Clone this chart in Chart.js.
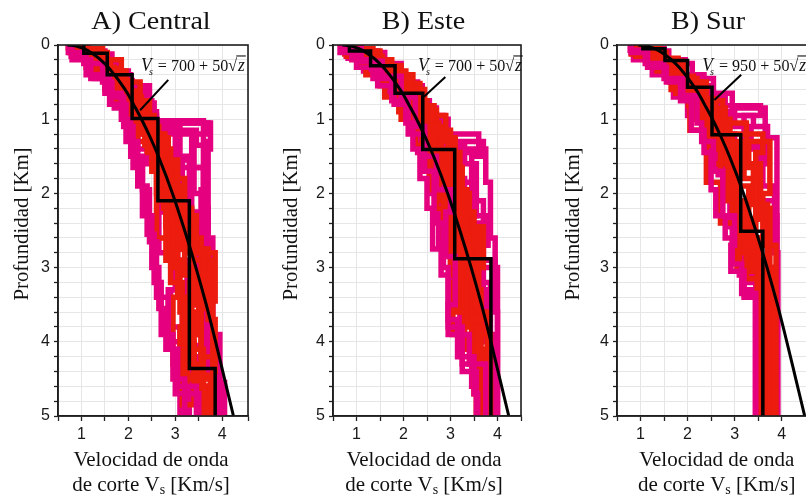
<!DOCTYPE html>
<html><head><meta charset="utf-8">
<script src="https://cdn.jsdelivr.net/npm/chart.js@4.4.1/dist/chart.umd.min.js"></script>
<style>
html,body{margin:0;padding:0;background:#fff;overflow:hidden;width:806px;height:501px;position:relative;}
canvas{position:absolute;top:0;}
</style></head><body>
<canvas id="c1" width="270" height="501" style="left:0px"></canvas>
<canvas id="c2" width="270" height="501" style="left:270px"></canvas>
<canvas id="c3" width="272" height="501" style="left:540px"></canvas>
<script>
// ---------- DATA (velocity km/s, bottom depth km of each layer) ----------
const panelTitles = ['A) Central', 'B) Este', 'B) Sur'];
const equationConstants = ['700', '700', '950'];
const velocityTickLabels = ['1', '2', '3', '4'];
const depthTickLabels = ['0', '1', '2', '3', '4', '5'];

const centralBlack = [[1.05,0.11],[1.55,0.40],[2.08,0.99],[2.63,2.10],[3.30,4.36],[3.85,5]];
const centralRed = [
  [[0.75,0.05],[1.00,0.15],[1.35,0.40],[1.75,0.80],[2.20,1.30],[2.60,2.00],[2.95,2.75],[3.40,3.50],[3.80,5]],
  [[0.85,0.10],[1.20,0.25],[1.60,0.55],[2.00,1.00],[2.50,1.70],[2.80,2.45],[3.30,2.80],[3.85,3.45],[3.55,4.50],[3.78,5]],
  [[0.95,0.08],[1.30,0.30],[1.70,0.65],[2.10,1.10],[2.65,1.90],[3.10,2.75],[3.60,3.40],[3.20,4.45],[3.75,4.85],[3.70,5]],
  [[0.80,0.12],[1.10,0.30],[1.50,0.60],[1.90,0.90],[2.40,1.45],[2.75,2.20],[3.00,3.00],[3.35,3.80],[3.10,4.50],[3.60,5]],
  [[1.05,0.05],[1.45,0.20],[1.85,0.50],[2.25,0.95],[2.55,1.40],[2.90,2.30],[3.45,2.75],[3.70,3.70],[3.85,4.40],[3.80,5]],
  [[0.90,0.15],[1.25,0.35],[1.65,0.70],[2.05,1.20],[2.70,2.10],[2.90,3.20],[3.15,4.00],[3.40,4.80],[3.70,5]],
  [[1.10,0.10],[1.55,0.35],[1.95,0.75],[2.45,1.25],[2.85,1.80],[3.20,2.60],[3.55,3.20],[3.30,4.10],[3.60,4.60],[3.75,5]],
  [[0.75,0.10],[1.15,0.35],[1.50,0.50],[1.85,0.80],[2.35,1.35],[2.60,2.60],[3.05,3.40],[2.95,4.30],[3.50,4.80],[3.70,5]],
  [[0.82,0.07],[1.22,0.22],[1.62,0.48],[2.02,0.88],[2.42,1.20],[2.78,1.60],[3.00,2.40],[3.20,3.10],[3.50,3.90],[3.25,4.60],[3.65,5]],
  [[0.98,0.12],[1.40,0.32],[1.78,0.62],[2.18,1.05],[2.55,1.55],[3.05,2.20],[3.35,2.90],[3.75,3.55],[3.55,4.20],[3.82,5]],
  [[0.72,0.04],[1.08,0.18],[1.45,0.42],[1.88,0.70],[2.28,1.15],[2.62,1.75],[2.80,2.90],[3.10,3.60],[3.40,4.30],[3.15,4.85],[3.50,5]]
];
const centralMagenta = [
  [[0.72,0.10],[1.05,0.25],[1.45,0.50],[1.65,0.70],[1.90,1.10],[2.10,1.65],[2.30,2.30],[2.50,3.00],[2.65,3.55],[2.80,4.10],[3.00,4.70],[3.50,5]],
  [[1.10,0.08],[1.50,0.20],[1.75,0.35],[2.00,0.55],[2.45,1.05],[3.75,1.40],[3.70,2.60],[3.80,5]],
  [[0.90,0.12],[1.30,0.30],[1.70,0.55],[2.35,0.90],[2.60,1.05],[3.70,1.20],[3.40,2.00],[3.65,2.90],[3.55,3.60],[3.75,4.55],[4.05,4.95],[3.90,5]],
  [[0.80,0.20],[1.20,0.45],[1.60,0.80],[1.95,1.30],[2.20,1.90],[2.40,2.55],[2.55,3.20],[2.70,3.90],[2.95,4.50],[3.20,5]],
  [[1.00,0.15],[1.40,0.40],[1.80,0.75],[2.50,1.15],[3.45,1.35],[3.60,2.20],[3.70,3.10],[3.50,3.90],[3.95,4.60],[4.00,5]],
  [[0.85,0.05],[1.25,0.20],[1.60,0.45],[2.00,0.85],[2.30,1.20],[3.35,1.50],[3.15,2.40],[3.40,3.30],[3.65,4.20],[3.45,4.80],[3.60,5]],
  [[0.95,0.10],[1.35,0.25],[1.75,0.60],[2.15,0.95],[2.60,1.70],[3.10,2.10],[2.85,2.90],[3.25,3.60],[3.15,4.40],[3.30,5]],
  [[0.78,0.15],[1.10,0.40],[1.50,0.65],[1.85,1.00],[2.05,1.50],[2.30,1.95],[2.45,2.65],[2.60,3.40],[2.85,4.10],[3.05,4.60],[3.45,5]],
  [[1.15,0.12],[1.65,0.40],[2.05,0.70],[2.35,1.05],[3.00,1.65],[3.60,1.95],[3.55,2.70],[3.75,3.50],[3.60,4.30],[3.85,5]],
  [[0.88,0.18],[1.28,0.45],[1.70,0.85],[2.20,1.40],[2.70,2.25],[3.25,2.50],[3.05,3.30],[2.90,4.00],[3.35,4.65],[3.10,5]],
  [[0.82,0.06],[1.18,0.22],[1.55,0.42],[1.95,0.68],[2.25,1.02],[3.60,1.30],[3.65,1.65],[3.35,2.25],[3.60,2.70],[3.45,3.50],[3.70,4.40],[3.95,5]],
  [[1.02,0.10],[1.42,0.28],[1.82,0.60],[2.12,1.10],[2.40,1.60],[2.80,2.00],[2.65,2.80],[3.00,3.30],[2.85,3.80],[3.10,4.40],[3.25,5]],
  [[0.92,0.08],[1.32,0.20],[1.72,0.48],[2.08,0.78],[2.55,1.08],[3.10,1.55],[3.30,2.35],[3.05,2.70],[3.50,3.20],[3.25,4.05],[3.55,4.65],[3.85,5]]
];

const esteBlack = [[0.85,0.08],[1.30,0.28],[1.82,0.65],[2.41,1.41],[3.09,2.88],[3.86,5]];
const esteRed = [
  [[0.70,0.06],[1.00,0.18],[1.40,0.40],[1.80,0.65],[2.10,1.00],[2.40,1.50],[2.70,2.20],[3.10,2.90],[3.35,3.80],[3.60,5]],
  [[0.85,0.10],[1.25,0.25],[1.65,0.50],[2.00,0.80],[2.35,1.20],[2.65,1.75],[2.95,2.40],[3.20,3.20],[3.05,3.90],[3.55,5]],
  [[0.95,0.05],[1.35,0.20],[1.75,0.45],[2.15,0.75],[2.50,1.10],[2.80,1.50],[3.05,2.25],[3.50,2.70],[3.40,3.70],[3.80,5]],
  [[0.75,0.12],[1.10,0.30],[1.50,0.55],[1.90,0.90],[2.25,1.35],[2.55,1.95],[2.85,2.60],[3.30,3.50],[3.65,4.40],[3.75,5]],
  [[0.90,0.08],[1.30,0.22],[1.70,0.40],[2.20,0.85],[2.60,1.30],[2.95,2.05],[3.25,2.50],[3.60,3.25],[3.45,3.90],[3.85,5]],
  [[1.00,0.12],[1.45,0.35],[1.85,0.70],[2.30,1.05],[2.75,1.70],[3.00,2.60],[3.15,3.60],[3.50,4.40],[3.65,5]],
  [[0.80,0.15],[1.20,0.40],[1.60,0.70],[1.95,1.00],[2.45,1.60],[2.75,2.10],[3.35,2.55],[3.10,3.40],[3.55,4.20],[3.70,5]],
  [[0.88,0.05],[1.20,0.15],[1.55,0.35],[2.05,0.60],[2.45,0.95],[2.90,1.25],[3.10,2.00],[3.40,2.80],[3.25,3.60],[3.80,4.50],[3.60,5]],
  [[0.78,0.08],[1.15,0.25],[1.52,0.45],[1.92,0.75],[2.28,1.10],[2.62,1.55],[2.90,2.20],[3.25,2.75],[3.50,3.40],[3.30,4.10],[3.72,5]],
  [[0.95,0.10],[1.38,0.28],[1.80,0.55],[2.18,0.95],[2.55,1.40],[2.85,1.85],[3.15,2.35],[3.00,3.10],[3.40,3.70],[3.58,4.60],[3.85,5]],
  [[0.72,0.05],[1.05,0.15],[1.45,0.32],[1.85,0.58],[2.25,0.88],[2.70,1.45],[3.20,1.95],[3.35,2.45],[3.70,3.00],[3.55,3.80],[3.78,5]],
  [[1.05,0.08],[1.50,0.28],[1.95,0.52],[2.35,0.82],[2.65,1.15],[3.00,1.65],[3.25,2.15],[3.05,2.70],[3.30,3.30],[3.65,4.00],[3.50,4.70],[3.70,5]]
];
const esteMagenta = [
  [[0.65,0.10],[1.00,0.30],[1.45,0.55],[1.80,0.80],[2.05,1.05],[2.20,1.40],[2.35,1.80],[2.50,2.20],[2.62,2.75],[2.80,3.10],[2.95,3.70],[3.15,4.20],[3.50,4.70],[3.58,5]],
  [[1.10,0.10],[1.60,0.25],[1.95,0.50],[2.30,0.75],[2.55,1.00],[2.95,1.40],[3.75,1.85],[3.85,2.60],[3.95,3.00],[4.00,5]],
  [[0.90,0.20],[1.35,0.45],[1.75,0.75],[2.10,1.20],[2.45,1.70],[2.65,2.40],[2.85,3.00],[2.95,3.80],[3.25,4.40],[3.55,5]],
  [[0.95,0.08],[1.45,0.30],[1.90,0.55],[2.40,0.95],[2.85,1.30],[3.70,1.50],[3.45,2.10],[3.70,2.90],[3.95,3.30],[3.75,4.00],[3.95,5]],
  [[0.78,0.15],[1.15,0.35],[1.60,0.65],[2.00,1.00],[2.30,1.45],[2.55,2.00],[2.75,2.70],[3.00,3.40],[3.20,4.00],[3.45,4.60],[3.60,5]],
  [[1.05,0.15],[1.50,0.40],[1.85,0.60],[2.20,0.90],[2.60,1.35],[3.30,1.60],[3.55,2.30],[3.40,3.00],[3.70,3.60],[3.50,4.30],[3.70,5]],
  [[0.85,0.05],[1.20,0.20],[1.70,0.50],[2.15,0.85],[2.70,1.25],[3.05,1.80],[3.30,2.40],[3.60,3.00],[3.90,3.60],[4.00,5]],
  [[0.70,0.05],[1.10,0.22],[1.55,0.42],[1.95,0.70],[2.25,1.10],[2.45,1.50],[2.70,1.95],[3.00,2.25],[2.90,2.85],[3.10,3.50],[2.95,3.90],[3.40,4.30],[3.75,5]],
  [[1.00,0.12],[1.40,0.30],[1.80,0.58],[2.15,0.88],[2.40,1.20],[3.60,1.45],[3.25,1.85],[3.50,2.30],[3.80,2.70],[3.55,3.20],[3.85,3.90],[3.95,5]],
  [[0.82,0.18],[1.25,0.38],[1.65,0.62],[2.05,0.92],[2.50,1.30],[2.80,1.90],[3.20,2.25],[3.05,2.80],[3.30,3.60],[3.25,4.30],[3.65,5]]
];

const surBlack = [[1.05,0.05],[1.52,0.21],[2.00,0.57],[2.52,1.21],[3.13,2.51],[3.60,5]];
const surRed = [
  [[0.85,0.08],[1.20,0.20],[1.60,0.40],[1.95,0.70],[2.30,1.10],[2.70,1.70],[3.05,2.40],[3.40,3.00],[3.60,5]],
  [[1.00,0.05],[1.40,0.18],[1.80,0.45],[2.20,0.80],[2.60,1.25],[2.95,1.90],[3.30,2.60],[3.70,5]],
  [[0.80,0.12],[1.25,0.30],[1.70,0.55],[2.10,0.90],[2.45,1.35],[2.85,2.10],[3.20,2.80],[3.50,3.40],[3.85,5]],
  [[1.10,0.10],[1.55,0.25],[1.95,0.50],[2.40,0.85],[2.80,1.20],[3.60,1.45],[3.45,2.20],[3.75,3.00],[3.80,5]],
  [[0.90,0.15],[1.35,0.35],[1.75,0.65],[2.15,1.00],[2.55,1.60],[3.00,2.20],[3.10,2.95],[3.55,5]],
  [[1.05,0.06],[1.45,0.22],[1.90,0.50],[2.30,0.75],[2.75,1.05],[3.25,1.30],[3.75,2.00],[3.60,2.70],[3.88,5]],
  [[0.95,0.10],[1.30,0.28],[1.65,0.60],[2.05,1.15],[2.40,1.85],[2.70,2.40],[3.25,3.15],[3.65,5]],
  [[0.88,0.05],[1.28,0.20],[1.70,0.42],[2.12,0.72],[2.55,1.00],[2.90,1.35],[3.20,1.80],[3.45,2.50],[3.30,2.90],[3.62,5]],
  [[1.02,0.12],[1.48,0.30],[1.88,0.60],[2.25,0.92],[2.65,1.40],[3.05,1.65],[3.40,2.15],[3.70,2.60],[3.50,3.10],[3.78,5]],
  [[0.82,0.10],[1.22,0.26],[1.62,0.50],[2.02,0.82],[2.38,1.18],[2.78,1.55],[2.95,2.25],[3.20,2.60],[3.05,3.00],[3.48,5]],
  [[0.95,0.07],[1.35,0.22],[1.78,0.52],[2.18,0.85],[2.50,1.30],[3.30,1.60],[3.55,2.35],[3.35,3.05],[3.70,5]]
];
const surMagenta = [
  [[0.80,0.10],[1.15,0.30],[1.55,0.50],[1.85,0.75],[2.08,1.15],[2.35,1.45],[2.50,1.95],[2.60,2.30],[2.80,2.60],[2.95,2.95],[3.15,3.35],[3.45,5]],
  [[1.15,0.08],[1.60,0.25],[2.10,0.45],[2.55,0.65],[2.95,0.85],[3.65,1.25],[3.90,5]],
  [[0.95,0.15],[1.40,0.35],[1.85,0.60],[2.20,1.00],[2.45,1.40],[2.75,2.00],[2.95,2.85],[3.20,3.30],[3.50,5]],
  [[1.00,0.05],[1.50,0.20],[1.95,0.40],[2.35,0.70],[2.80,0.95],[3.40,1.10],[3.70,1.60],[3.55,2.30],[3.90,3.00],[3.75,5]],
  [[0.85,0.20],[1.25,0.40],[1.70,0.70],[2.00,0.95],[2.40,1.25],[2.65,1.75],[2.90,2.45],[3.10,3.10],[3.45,5]],
  [[1.10,0.12],[1.55,0.32],[1.95,0.55],[2.45,0.90],[3.00,1.10],[3.35,1.40],[3.50,2.10],[3.85,2.80],[3.92,5]],
  [[0.78,0.07],[1.10,0.25],[1.50,0.45],[1.90,0.68],[2.20,1.05],[2.30,1.30],[2.55,1.70],[2.75,2.30],[3.00,2.70],[2.92,3.05],[3.20,3.40],[3.44,5]],
  [[1.05,0.10],[1.50,0.30],[1.90,0.55],[2.40,0.82],[3.55,0.95],[3.20,1.35],[3.60,1.90],[3.85,2.50],[3.70,3.20],[3.85,5]],
  [[0.90,0.12],[1.32,0.32],[1.72,0.58],[2.10,0.88],[2.60,1.20],[3.00,1.50],[2.75,2.05],[3.10,2.65],[3.30,3.20],[3.55,5]]
];

// smooth trend curves
const curveDepth = [0, 0.01, 0.02, 0.05, 0.1, 0.15, 0.2, 0.3, 0.4, 0.5, 0.65, 0.8, 1.0, 1.25, 1.5, 2.0, 2.5, 3.0, 3.5, 4.0, 4.5, 5.0];
const curveVs700 = [0.70, 0.86, 0.92, 1.05, 1.20, 1.31, 1.41, 1.57, 1.70, 1.82, 1.98, 2.11, 2.28, 2.47, 2.64, 2.94, 3.20, 3.44, 3.66, 3.86, 4.05, 4.24];
const curveVs950 = [0.95, 1.11, 1.17, 1.30, 1.45, 1.56, 1.66, 1.82, 1.95, 2.07, 2.23, 2.36, 2.53, 2.72, 2.89, 3.19, 3.45, 3.69, 3.91, 4.11, 4.30, 4.49];

// ---------- RENDERING ----------
const SERIF = "'Liberation Serif','Times New Roman',serif";
const SANS = "'Liberation Sans', Arial, sans-serif";
const RED = '#ec1c0e';
const MAGENTA = '#e5007f';

function stepPoints(profile) {
  const pts = []; let top = 0;
  for (const [v, zb] of profile) { pts.push({x: v, y: top}); pts.push({x: v, y: zb}); top = zb; }
  return pts;
}
function labelFor(value, labels, first) {
  const i = Math.round(value) - first;
  if (Math.abs(value - Math.round(value)) < 1e-6 && i >= 0 && i < labels.length) return labels[i];
  return '';
}
function stretchText(ctx, text, x, y, font, sx, rot) {
  ctx.save(); ctx.translate(x, y); if (rot) ctx.rotate(rot); ctx.scale(sx, 1);
  ctx.font = font; ctx.fillText(text, 0, 0); ctx.restore();
}

const decor = {
  id: 'decor',
  afterDatasetsDraw(chart, args, o) {
    const {ctx, chartArea: a, scales: {x, y}} = chart;
    ctx.save();
    ctx.strokeStyle = '#000'; ctx.lineWidth = 2;
    ctx.beginPath();
    ctx.moveTo(x.getPixelForValue(o.leader[0]), y.getPixelForValue(o.leader[1]));
    ctx.lineTo(x.getPixelForValue(o.leader[2]), y.getPixelForValue(o.leader[3]));
    ctx.stroke();
    ctx.strokeStyle = '#1e1e1e'; ctx.lineWidth = 1.6;
    ctx.strokeRect(a.left, a.top, a.right - a.left, a.bottom - a.top);
    ctx.restore();
  },
  afterDraw(chart, args, o) {
    const {ctx, scales: {x, y}} = chart;
    ctx.save();
    ctx.fillStyle = '#111'; ctx.textAlign = 'center'; ctx.textBaseline = 'middle';
    stretchText(ctx, o.title, o.titleX, 22, `26px ${SERIF}`, 1.08, 0);
    stretchText(ctx, 'Profundidad [Km]', o.yTitleX, 224, `20px ${SERIF}`, 1.04, -Math.PI / 2);
    ctx.font = `21px ${SERIF}`;
    ctx.fillText('Velocidad de onda', o.xTitleX, 460);
    const p1 = 'de corte V', p3 = ' [Km/s]';
    ctx.font = `21px ${SERIF}`; const w1 = ctx.measureText(p1).width, w3 = ctx.measureText(p3).width;
    ctx.font = `14px ${SERIF}`; const w2 = ctx.measureText('s').width;
    let sx = o.xTitleX - (w1 + w2 + w3) / 2;
    ctx.textAlign = 'left';
    ctx.font = `21px ${SERIF}`; ctx.fillText(p1, sx, 485); sx += w1;
    ctx.font = `14px ${SERIF}`; ctx.fillText('s', sx, 490); sx += w2;
    ctx.font = `21px ${SERIF}`; ctx.fillText(p3, sx, 485);
    // equation (slightly condensed, like the original typesetting)
    ctx.textBaseline = 'alphabetic';
    const x0 = x.getPixelForValue(o.eqAt[0]); const ey = y.getPixelForValue(o.eqAt[1]);
    ctx.translate(x0, ey); ctx.scale(0.92, 1);
    let ex = 0;
    ctx.font = `italic 19px ${SERIF}`; ctx.fillText('V', ex, 0); ex += ctx.measureText('V').width - 3;
    ctx.font = `italic 11px ${SERIF}`; ctx.fillText('s', ex, 4); ex += ctx.measureText('s').width + 1;
    ctx.font = `17.5px ${SERIF}`; const mid = ' = ' + o.eq + ' + 50';
    ctx.fillText(mid, ex, 0); ex += ctx.measureText(mid).width;
    ctx.fillText('\u221A', ex, 0); ex += ctx.measureText('\u221A').width;
    ctx.font = `italic 19px ${SERIF}`; const zw = ctx.measureText('z').width;
    ctx.fillText('z', ex + 1, 0);
    ctx.strokeStyle = '#111'; ctx.lineWidth = 1.1;
    ctx.beginPath(); ctx.moveTo(ex - 1, -15); ctx.lineTo(ex + zw + 2, -15); ctx.stroke();
    ctx.restore();
  }
};

function makePanel(p) {
  const datasets = [];
  // the slowest (left-edge) magenta profiles sit above the red ones; the rest below
  p.magenta.forEach((pr, i) => datasets.push({data: stepPoints(pr), borderColor: MAGENTA, borderWidth: 5.5,
    order: p.magentaOnTop.includes(i) ? 1.5 : 3}));
  p.red.forEach(pr => datasets.push({data: stepPoints(pr), borderColor: RED, borderWidth: 5.5, order: 2}));
  datasets.push({data: stepPoints(p.black), borderColor: '#000', borderWidth: 3.5, order: 1});
  datasets.push({data: curveDepth.map((z, i) => ({x: p.curve[i], y: z})), borderColor: '#000', borderWidth: 3,
    cubicInterpolationMode: 'monotone', order: 0});
  datasets.forEach(d => { d.pointRadius = 0; d.fill = false; d.clip = 0; d.borderJoinStyle = 'miter'; d.borderCapStyle = 'butt'; });

  new Chart(document.getElementById(p.id), {
    type: 'line',
    data: {datasets},
    options: {
      responsive: false, animation: false, devicePixelRatio: 1,
      layout: {padding: {left: 0, right: p.padRight, top: 45, bottom: 0}},
      plugins: {legend: {display: false}, tooltip: {enabled: false}, title: {display: false},
        decor: {title: p.title, titleX: p.titleX, yTitleX: p.yTitleX, xTitleX: p.xTitleX, eq: p.eq, eqAt: p.eqAt, leader: p.leader}},
      scales: {
        x: {type: 'linear', position: 'bottom', min: 0.5, max: p.xMax,
          afterFit: s => { s.height = 85; },
          grid: {color: '#e6e6e6', lineWidth: 1, tickColor: '#222', tickLength: 5, tickWidth: 1.3},
          border: {display: true, color: '#1e1e1e', width: 1.6},
          ticks: {stepSize: 0.5, autoSkip: false, maxRotation: 0, padding: 4, color: '#1a1a1a',
            font: {family: SANS, size: 16}, callback: v => labelFor(v, velocityTickLabels, 1)}},
        y: {type: 'linear', position: 'left', reverse: true, min: 0, max: 5,
          afterFit: s => { s.width = p.yWidth; },
          grid: {color: '#e6e6e6', lineWidth: 1, tickColor: '#222', tickLength: 4, tickWidth: 1.3},
          border: {display: true, color: '#1e1e1e', width: 1.6},
          ticks: {stepSize: 0.2, autoSkip: false, padding: 4, color: '#1a1a1a',
            font: {family: SANS, size: 16}, callback: v => labelFor(v, depthTickLabels, 0)}}
      }
    },
    plugins: [decor]
  });
}

makePanel({id: 'c1', red: centralRed, magenta: centralMagenta, black: centralBlack, curve: curveVs700, magentaOnTop: [0, 3, 7],
  xMax: 4.55, padRight: 22, yWidth: 58, title: panelTitles[0], titleX: 151, yTitleX: 23, xTitleX: 151,
  eq: equationConstants[0], eqAt: [2.27, 0.35], leader: [2.85, 0.47, 2.25, 0.88]});
makePanel({id: 'c2', red: esteRed, magenta: esteMagenta, black: esteBlack, curve: curveVs700, magentaOnTop: [0, 2, 7],
  xMax: 4.5, padRight: 19, yWidth: 63, title: panelTitles[1], titleX: 153.5, yTitleX: 21.7, xTitleX: 154,
  eq: equationConstants[1], eqAt: [2.31, 0.35], leader: [2.89, 0.43, 2.43, 0.70]});
makePanel({id: 'c3', red: surRed, magenta: surMagenta, black: surBlack, curve: curveVs950, magentaOnTop: [0, 6],
  xMax: 4.56, padRight: 4, yWidth: 77, title: panelTitles[2], titleX: 168, yTitleX: 34, xTitleX: 176.7,
  eq: equationConstants[2], eqAt: [2.31, 0.35], leader: [3.14, 0.40, 2.57, 0.74]});
</script>
</body></html>
